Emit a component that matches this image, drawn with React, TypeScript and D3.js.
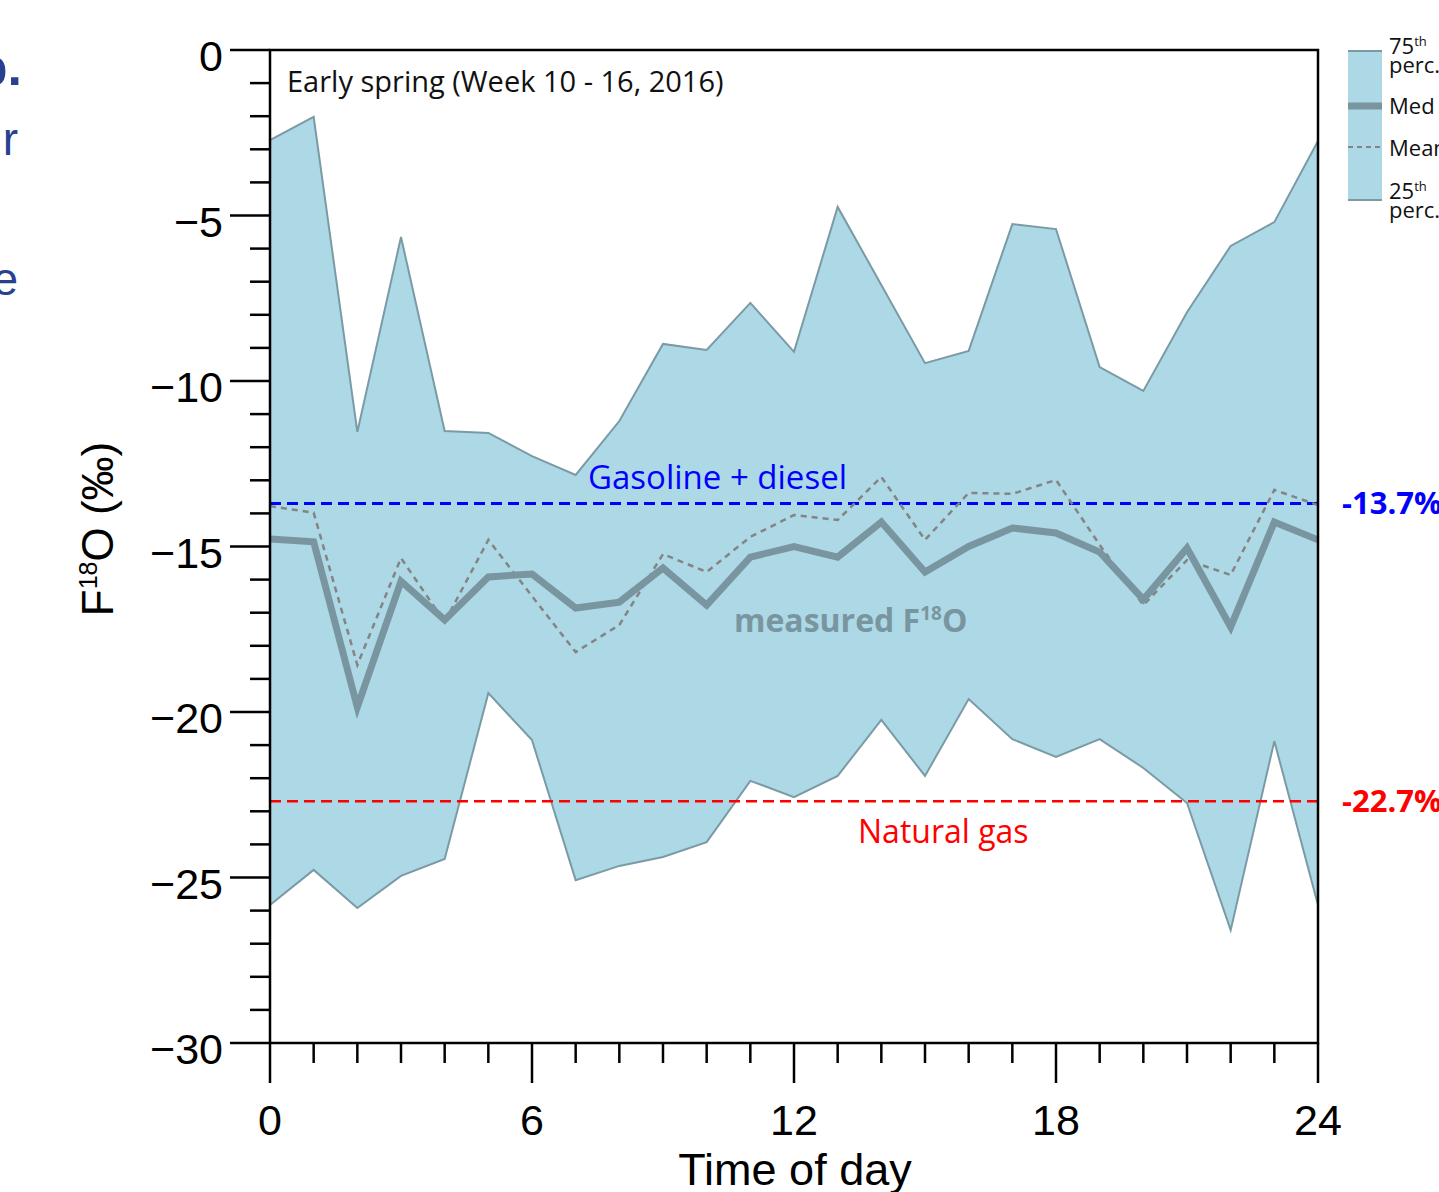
import { scaleLinear, area, line, range } from "d3";

// hours of the day
const hours = range(0, 25);

// 75th percentile, 25th percentile, median and mean (‰)
const p75 = [
  -2.72, -2.02, -11.54, -5.65, -11.51, -11.57, -12.27, -12.84, -11.21, -8.88,
  -9.06, -7.64, -9.12, -4.74, -7.1, -9.46, -9.09, -5.26, -5.41, -9.58, -10.3,
  -7.92, -5.92, -5.2, -2.75,
];
const p25 = [
  -25.83, -24.77, -25.92, -24.95, -24.44, -19.43, -20.85, -25.08, -24.65,
  -24.38, -23.93, -22.08, -22.57, -21.93, -20.24, -21.93, -19.61, -20.82,
  -21.36, -20.82, -21.69, -22.75, -26.59, -20.88, -25.83,
];
const median = [
  -14.77, -14.86, -19.85, -16.05, -17.22, -15.92, -15.83, -16.86, -16.68,
  -15.65, -16.77, -15.32, -15.0, -15.32, -14.26, -15.77, -15.0, -14.44, -14.59,
  -15.17, -16.6, -15.05, -17.43, -14.26, -14.8,
];
const mean = [
  -13.78, -13.98, -18.58, -15.35, -17.28, -14.8, -16.5, -18.19, -17.37, -15.23,
  -15.77, -14.71, -14.05, -14.2, -12.9, -14.8, -13.38, -13.41, -12.99, -14.95,
  -16.77, -15.41, -15.86, -13.29, -13.75,
];

const gasoline = -13.7;
const naturalGas = -22.7;

const yMajor = [0, -5, -10, -15, -20, -25, -30];
const xMajor = [0, 6, 12, 18, 24];

const legendItems = ["Med", "Mean"];

const FILL = "#add8e6";
const EDGE = "#7a9ba5";
const MED = "#7996a0";
const MEAN = "#848484";

export default function App() {
  const x = scaleLinear().domain([0, 24]).range([270, 1318]);
  const y = scaleLinear().domain([-30, 0]).range([1043, 50]);

  const band = area<number>()
    .x((h) => x(h))
    .y0((h) => y(p25[h]))
    .y1((h) => y(p75[h]));
  const lineOf = (vals: number[]) =>
    line<number>()
      .x((h) => x(h))
      .y((h) => y(vals[h]))(hours) || "";

  const yMinor = range(-30, 1, 1).filter((v) => v % 5 !== 0);
  const xMinor = range(0, 25, 1).filter((v) => v % 6 !== 0);

  const axisFont = "'Liberation Sans', Arial, Helvetica, sans-serif";
  const textFont = "'Open Sans', 'Noto Sans', sans-serif";

  return (
    <div style={{ position: "absolute", left: 0, top: 0 }}>
      <svg width={1439} height={1192} style={{ display: "block" }}>
        <rect width={1439} height={1192} fill="#fff" />

        {/* cut-off text from the neighbouring panel */}
        <g fill="#27418f" fontFamily={axisFont}>
          <text x={22} y={85} fontSize={52} fontWeight="bold" textAnchor="end">
            b.
          </text>
          <text x={18} y={155} fontSize={46} textAnchor="end">
            r
          </text>
          <text x={18} y={295} fontSize={46} textAnchor="end">
            e
          </text>
        </g>

        {/* interquartile band */}
        <path d={band(hours) || ""} fill={FILL} />
        <path d={lineOf(p75)} fill="none" stroke={EDGE} strokeWidth={2} />
        <path d={lineOf(p25)} fill="none" stroke={EDGE} strokeWidth={2} />

        {/* reference lines */}
        <line
          x1={x(0)}
          x2={x(24)}
          y1={y(gasoline)}
          y2={y(gasoline)}
          stroke="#0000ff"
          strokeWidth={3}
          strokeDasharray="11,6"
        />
        <line
          x1={x(0)}
          x2={x(24)}
          y1={y(naturalGas)}
          y2={y(naturalGas)}
          stroke="#ff0000"
          strokeWidth={2.5}
          strokeDasharray="11,6"
        />

        {/* mean and median */}
        <path
          d={lineOf(mean)}
          fill="none"
          stroke={MEAN}
          strokeWidth={2.5}
          strokeDasharray="6,5"
        />
        <path
          d={lineOf(median)}
          fill="none"
          stroke={MED}
          strokeWidth={7}
          strokeLinejoin="miter"
        />

        {/* frame */}
        <rect
          x={x(0)}
          y={y(0)}
          width={x(24) - x(0)}
          height={y(-30) - y(0)}
          fill="none"
          stroke="#000"
          strokeWidth={2.5}
        />

        {/* axes */}
        <g stroke="#000" strokeWidth={2.5}>
          {yMajor.map((v) => (
            <line key={v} x1={230} x2={x(0)} y1={y(v)} y2={y(v)} />
          ))}
          {yMinor.map((v) => (
            <line key={v} x1={250} x2={x(0)} y1={y(v)} y2={y(v)} />
          ))}
          {xMajor.map((v) => (
            <line key={v} x1={x(v)} x2={x(v)} y1={y(-30)} y2={y(-30) + 40} />
          ))}
          {xMinor.map((v) => (
            <line key={v} x1={x(v)} x2={x(v)} y1={y(-30)} y2={y(-30) + 20} />
          ))}
        </g>
        <g fontFamily={axisFont} fontSize={43} fill="#000">
          {yMajor.map((v) => (
            <text
              key={v}
              x={223}
              y={y(v) + 6}
              dy="0.36em"
              textAnchor="end"
            >
              {v === 0 ? "0" : `\u2212${Math.abs(v)}`}
            </text>
          ))}
          {xMajor.map((v) => (
            <text key={v} x={x(v)} y={1135} textAnchor="middle">
              {v}
            </text>
          ))}
          <text x={795} y={1185} fontSize={45} textAnchor="middle">
            Time of day
          </text>
          <text
            transform="translate(113,529) rotate(-90)"
            textAnchor="middle"
            fontSize={44}
          >
            F<tspan fontSize={25} dy={-16}>18</tspan>
            <tspan dy={16}>O (‰)</tspan>
          </text>
        </g>

        {/* annotations */}
        <g fontFamily={textFont}>
          <text x={287} y={92} fontSize={29} fill="#111">
            Early spring (Week 10 - 16, 2016)
          </text>
          <text x={588} y={489} fontSize={33} fill="#0000ff">
            Gasoline + diesel
          </text>
          <text x={858} y={843} fontSize={32} fill="#ff0000">
            Natural gas
          </text>
          <text x={734} y={632} fontSize={32} fontWeight="bold" fill={MED}>
            measured F<tspan fontSize={19} dy={-12}>18</tspan>
            <tspan dy={12}>O</tspan>
          </text>
          <text
            x={1342}
            y={y(gasoline) + 11}
            fontSize={31}
            fontWeight="bold"
            fill="#0000ff"
          >
            -13.7%
          </text>
          <text
            x={1342}
            y={y(naturalGas) + 11}
            fontSize={31}
            fontWeight="bold"
            fill="#ff0000"
          >
            -22.7%
          </text>
        </g>

        {/* legend */}
        <g>
          <rect x={1348} y={51} width={34} height={149} fill={FILL} />
          <line x1={1348} x2={1382} y1={51} y2={51} stroke={EDGE} strokeWidth={2} />
          <line x1={1348} x2={1382} y1={106} y2={106} stroke={MED} strokeWidth={7} />
          <line
            x1={1348}
            x2={1382}
            y1={147}
            y2={147}
            stroke={MEAN}
            strokeWidth={2}
            strokeDasharray="5,4"
          />
          <line x1={1348} x2={1382} y1={200} y2={200} stroke={EDGE} strokeWidth={2} />
          <g fontFamily={textFont} fontSize={22} fill="#111">
            <text x={1389} y={54}>
              75<tspan fontSize={13} dy={-8}>th</tspan>
            </text>
            <text x={1389} y={73}>perc.</text>
            <text x={1389} y={114}>{legendItems[0]}</text>
            <text x={1389} y={156}>{legendItems[1]}</text>
            <text x={1389} y={199}>
              25<tspan fontSize={13} dy={-8}>th</tspan>
            </text>
            <text x={1389} y={218}>perc.</text>
          </g>
        </g>
      </svg>
    </div>
  );
}
